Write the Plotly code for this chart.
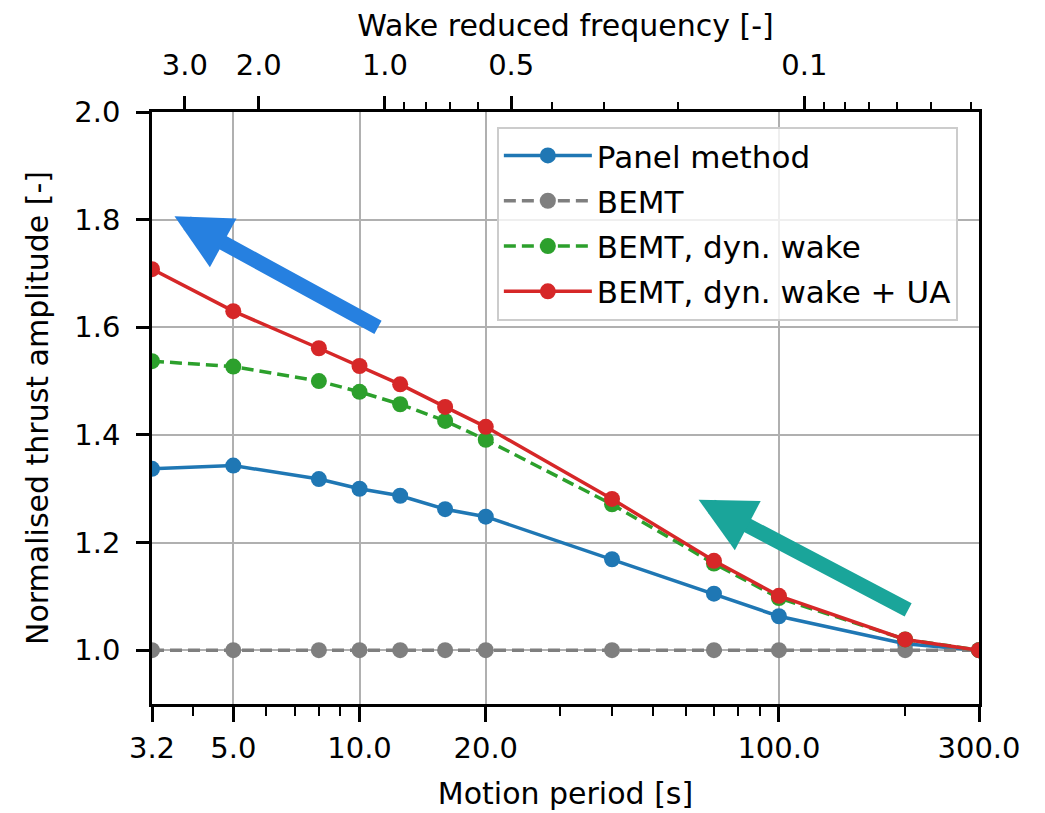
import math
import plotly.graph_objects as go

# ---- data ----
periods = [3.2, 5.0, 8.0, 10.0, 12.5, 16.0, 20.0, 40.0, 70.0, 100.0, 200.0, 300.0]
panel_method = [1.337, 1.343, 1.318, 1.300, 1.287, 1.262, 1.248, 1.169, 1.105, 1.063, 1.012, 1.000]
bemt = [1.000, 1.000, 1.000, 1.000, 1.000, 1.000, 1.000, 1.000, 1.000, 1.000, 1.000, 1.000]
bemt_dyn_wake = [1.537, 1.527, 1.500, 1.480, 1.457, 1.426, 1.391, 1.271, 1.161, 1.097, 1.020, 1.000]
bemt_dyn_wake_ua = [1.708, 1.630, 1.561, 1.528, 1.494, 1.452, 1.415, 1.281, 1.166, 1.101, 1.020, 1.000]

series_names = ["Panel method", "BEMT", "BEMT, dyn. wake", "BEMT, dyn. wake + UA"]
series_colors = ["#1f77b4", "#7f7f7f", "#2ca02c", "#d62728"]
series_dash = ["solid", "12px,6px", "12px,6px", "solid"]

bottom_ticks = [3.2, 5.0, 10.0, 20.0, 100.0, 300.0]
bottom_tick_text = ["3.2", "5.0", "10.0", "20.0", "100.0", "300.0"]
bottom_minor = [4, 6, 7, 8, 9, 30, 40, 50, 60, 70, 80, 90, 200]

# wake reduced frequency k = K_T / T
K_T = 11.5
top_labels = [3.0, 2.0, 1.0, 0.5, 0.1]
top_tick_text = ["3.0", "2.0", "1.0", "0.5", "0.1"]
top_minor_labels = [0.9, 0.8, 0.7, 0.6, 0.4, 0.3, 0.2, 0.09, 0.08, 0.07, 0.06, 0.05, 0.04]

y_ticks = [1.0, 1.2, 1.4, 1.6, 1.8, 2.0]
y_tick_text = ["1.0", "1.2", "1.4", "1.6", "1.8", "2.0"]

X_RANGE = [3.2, 300.0]
Y_RANGE = [0.9, 2.0]
xr = [math.log10(X_RANGE[0]), math.log10(X_RANGE[1])]

FONT = "DejaVu Sans"
TICK_SIZE = 29
TITLE_SIZE = 30
LEGEND_SIZE = 31

fig = go.Figure()
for name, vals, col, dash in zip(series_names,
                                  [panel_method, bemt, bemt_dyn_wake, bemt_dyn_wake_ua],
                                  series_colors, series_dash):
    fig.add_trace(go.Scatter(
        x=periods, y=vals, name=name, mode="lines+markers",
        line=dict(color=col, width=3.5, dash=dash),
        marker=dict(color=col, size=16, line=dict(width=0)),
        legendgroup=name,
    ))

# invisible trace to activate the top axis
fig.add_trace(go.Scatter(x=X_RANGE, y=[None, None], xaxis="x2", yaxis="y",
                         mode="markers", marker=dict(opacity=0),
                         showlegend=False, hoverinfo="skip"))

grid_col = "#b0b0b0"

# the page body adds an 8 px offset, so the figure is 8 px smaller
fig.update_layout(
    width=1037, height=805,
    margin=dict(l=144, r=66, t=104, b=109),
    paper_bgcolor="white", plot_bgcolor="white",
    font=dict(family=FONT, size=TICK_SIZE, color="black"),
    showlegend=True,
    legend=dict(
        x=0.417, y=0.975, xanchor="left", yanchor="top",
        bgcolor="rgba(255,255,255,0.8)", bordercolor="#cccccc", borderwidth=2,
        font=dict(family=FONT, size=LEGEND_SIZE, color="black"),
        itemwidth=88, tracegroupgap=2,
    ),
    xaxis=dict(
        type="log", range=xr, automargin=False,
        tickmode="array", tickvals=bottom_ticks, ticktext=bottom_tick_text,
        ticks="outside", ticklen=15, tickwidth=2.5, tickcolor="black",
        ticklabelstandoff=1,
        showline=True, linecolor="black", linewidth=2.5,
        showgrid=True, gridcolor=grid_col, gridwidth=2,
        minor=dict(tickmode="array", tickvals=bottom_minor, ticks="outside",
                   ticklen=9, tickwidth=2, tickcolor="black", showgrid=False),
        title=dict(text="Motion period [s]", font=dict(size=TITLE_SIZE), standoff=20),
        tickfont=dict(size=TICK_SIZE),
        zeroline=False,
    ),
    xaxis2=dict(
        type="log", range=xr, overlaying="x", side="top", anchor="y", automargin=False,
        tickmode="array", tickvals=[K_T / k for k in top_labels], ticktext=top_tick_text,
        ticks="outside", ticklen=13, tickwidth=2.5, tickcolor="black",
        ticklabelstandoff=10,
        showline=True, linecolor="black", linewidth=2.5,
        showgrid=False,
        minor=dict(tickmode="array", tickvals=[K_T / k for k in top_minor_labels],
                   ticks="outside", ticklen=7, tickwidth=2, tickcolor="black", showgrid=False),
        title=dict(text="Wake reduced frequency [-]", font=dict(size=TITLE_SIZE), standoff=10),
        tickfont=dict(size=TICK_SIZE),
        zeroline=False,
    ),
    yaxis=dict(
        range=Y_RANGE, automargin=False,
        tickmode="array", tickvals=y_ticks, ticktext=y_tick_text,
        ticks="outside", ticklen=13, tickwidth=2.5, tickcolor="black",
        ticklabelstandoff=10,
        showline=True, linecolor="black", linewidth=2.5, mirror=True,
        showgrid=True, gridcolor=grid_col, gridwidth=2,
        title=dict(text="Normalised thrust amplitude [-]", font=dict(size=TITLE_SIZE), standoff=17),
        tickfont=dict(size=TICK_SIZE),
        zeroline=False,
    ),
)

# illustrative arrows (paper coordinates, tail offsets in pixels)
fig.add_annotation(x=0.0272, y=0.824, xref="paper", yref="paper",
                   ax=205, ay=112, axref="pixel", ayref="pixel",
                   showarrow=True, arrowhead=2, arrowsize=0.74, arrowwidth=15,
                   arrowcolor="#2680e0", text="")
fig.add_annotation(x=0.6610, y=0.345, xref="paper", yref="paper",
                   ax=211, ay=111, axref="pixel", ayref="pixel",
                   showarrow=True, arrowhead=2, arrowsize=0.74, arrowwidth=15,
                   arrowcolor="#1aa59a", text="")

fig.write_html("out.html")
